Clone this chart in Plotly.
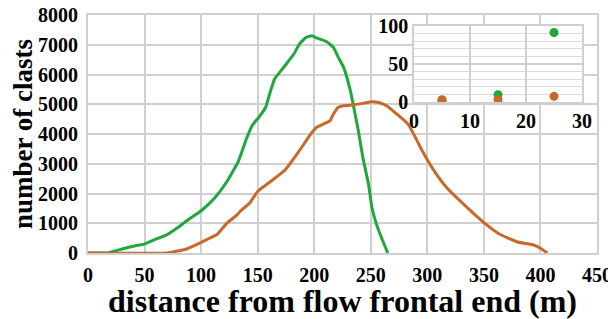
import plotly.graph_objects as go

# Main chart data: distance (m) vs number of clasts
green_x = [0, 10, 18, 20, 28, 37, 44, 50, 59, 70, 81, 90, 100, 112, 123, 133, 140, 145, 151,
           157, 161, 165, 173, 182, 187, 193, 198, 202, 211, 217, 221, 226, 232, 235, 239,
           243, 248, 251, 255, 260, 265]
green_y = [0, 0, 0, 30, 115, 200, 260, 300, 450, 620, 900, 1160, 1420, 1850, 2410, 3090, 3830,
           4280, 4560, 4890, 5400, 5850, 6240, 6690, 7030, 7250, 7300, 7230, 7100, 6910, 6600,
           6240, 5450, 4890, 4110, 3210, 2310, 1530, 970, 460, 0]

orange_x = [0, 70, 78, 87, 96, 105, 114, 123, 132, 135, 143, 150, 162, 174, 188, 196, 202, 208,
            214, 217, 221, 226, 235, 243, 251, 257, 264, 273, 283, 291, 295, 305, 317, 332,
            350, 364, 379, 394, 400, 406]
orange_y = [0, 0, 56, 135, 280, 450, 620, 1010, 1290, 1420, 1680, 2070, 2420, 2780, 3500, 3950,
            4220, 4330, 4450, 4670, 4890, 4950, 4980, 5030, 5080, 5060, 4950, 4670, 4330, 3770,
            3470, 2820, 2200, 1640, 1020, 630, 380, 270, 160, 0]

# Tick values / labels
main_xticks = list(range(0, 451, 50))
main_yticks = list(range(0, 8001, 1000))
inset_xticks = [0, 10, 20, 30]
inset_yticks = [0, 50, 100]

# Inset data
inset_x = [5, 15, 25]
inset_green = [2, 9.5, 91.4]
inset_orange = [3, 3, 7.4]

GREEN = "#1ea83c"
ORANGE = "#c8692c"
GRID = "#d0d0d0"
FONT = "Liberation Serif"


def bold(vals):
    return ["<b>%d</b>" % v for v in vals]


fig = go.Figure()
fig.add_trace(go.Scatter(x=green_x, y=green_y, mode="lines",
                         line=dict(color=GREEN, width=3, shape="spline", smoothing=0.4),
                         xaxis="x", yaxis="y", showlegend=False))
fig.add_trace(go.Scatter(x=orange_x, y=orange_y, mode="lines",
                         line=dict(color=ORANGE, width=3, shape="spline", smoothing=0.4),
                         xaxis="x", yaxis="y", showlegend=False))
fig.add_trace(go.Scatter(x=inset_x, y=inset_green, mode="markers",
                         marker=dict(color=GREEN, size=9),
                         xaxis="x2", yaxis="y2", showlegend=False))
fig.add_trace(go.Scatter(x=inset_x, y=inset_orange, mode="markers",
                         marker=dict(color=ORANGE, size=9),
                         xaxis="x2", yaxis="y2", showlegend=False))

# White background box for the inset
fig.add_shape(type="rect", xref="x domain", yref="y domain",
              x0=0.561, x1=0.997, y0=0.508, y1=0.996,
              fillcolor="white", line=dict(width=0), layer="below")

tickfont = dict(family=FONT, size=20, color="black")

fig.update_layout(
    width=608, height=311,
    margin=dict(l=80, r=19, t=7, b=66, autoexpand=False),
    paper_bgcolor="white", plot_bgcolor="white",
    font=dict(family=FONT, color="black"),
    xaxis=dict(range=[0, 450], tickmode="array", tickvals=main_xticks,
               ticktext=bold(main_xticks), automargin=False, ticklabeloverflow="allow",
               showgrid=True, gridcolor=GRID, gridwidth=2,
               showline=True, linecolor=GRID, linewidth=2, mirror=True,
               zeroline=False, ticks="", tickfont=tickfont, ticklabelstandoff=3,
               title=dict(text="<b>distance from flow frontal end (m)</b>",
                          font=dict(family=FONT, size=32), standoff=0)),
    yaxis=dict(range=[0, 8000], tickmode="array", tickvals=main_yticks,
               ticktext=bold(main_yticks), automargin=False, ticklabeloverflow="allow",
               showgrid=True, gridcolor=GRID, gridwidth=2,
               showline=True, linecolor=GRID, linewidth=2, mirror=True,
               zeroline=False, ticks="", tickfont=tickfont, ticklabelstandoff=4,
               title=dict(text="<b>number of clasts</b>",
                          font=dict(family=FONT, size=27), standoff=4)),
    xaxis2=dict(domain=[0.6405, 0.9705], anchor="y2", range=[0, 30],
                tickmode="array", tickvals=inset_xticks, ticktext=bold(inset_xticks),
                automargin=False, ticklabeloverflow="allow",
                showgrid=True, gridcolor=GRID, gridwidth=1.5,
                showline=True, linecolor=GRID, linewidth=1.5, mirror=True,
                zeroline=False, ticks="", tickfont=tickfont, ticklabelstandoff=0),
    yaxis2=dict(domain=[0.6345, 0.9538], anchor="x2", range=[0, 100],
                tickmode="array", tickvals=inset_yticks, ticktext=bold(inset_yticks),
                automargin=False, ticklabeloverflow="allow",
                showgrid=True, gridcolor=GRID, gridwidth=1.5,
                minor=dict(dtick=10, showgrid=True, gridcolor="#dcdcdc", gridwidth=1),
                showline=True, linecolor=GRID, linewidth=1.5, mirror=True,
                zeroline=False, ticks="", tickfont=tickfont, ticklabelstandoff=0),
)

fig.write_html("out.html")
